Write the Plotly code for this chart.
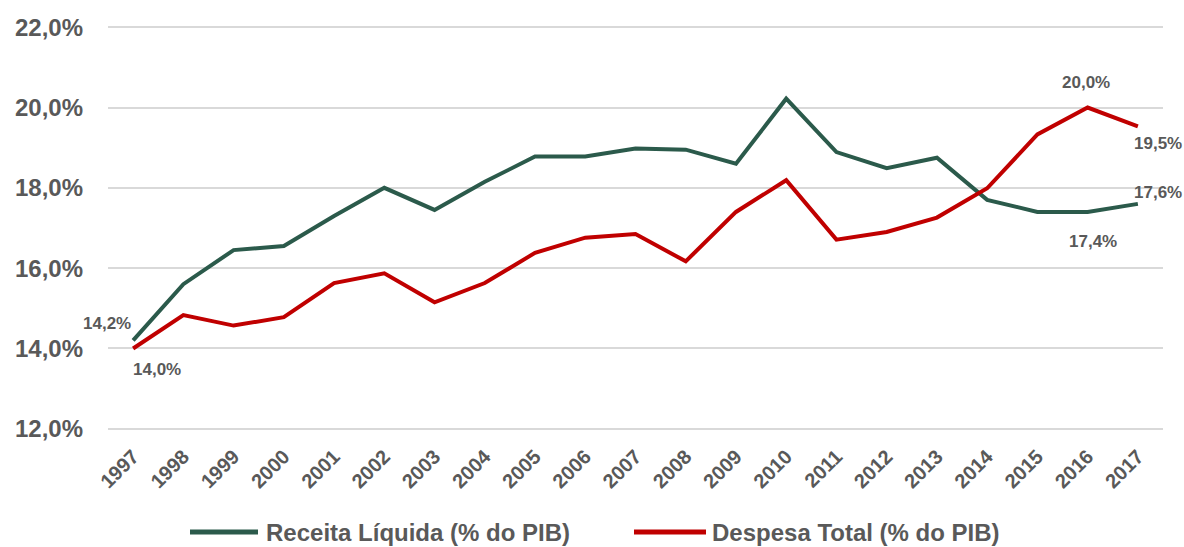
import plotly.graph_objects as go

years = [str(y) for y in range(1997, 2018)]
receita = [14.2, 15.6, 16.45, 16.55, 17.3, 18.0, 17.45, 18.15, 18.78, 18.78, 18.98, 18.95,
           18.6, 20.22, 18.89, 18.49, 18.75, 17.7, 17.4, 17.4, 17.6]
despesa = [14.0, 14.83, 14.57, 14.78, 15.63, 15.87, 15.15, 15.63, 16.38, 16.76, 16.85, 16.17,
           17.4, 18.19, 16.71, 16.9, 17.26, 17.99, 19.33, 20.0, 19.53]
name_receita = "Receita Líquida (% do PIB)"
name_despesa = "Despesa Total (% do PIB)"
y_ticks = [12, 14, 16, 18, 20, 22]
y_tick_text = ["12,0%", "14,0%", "16,0%", "18,0%", "20,0%", "22,0%"]

GREEN = "#2b5a4b"
RED = "#c00000"
GRAY = "#595959"
FONT = "Liberation Sans, Arial, sans-serif"

fig = go.Figure()
fig.add_trace(go.Scatter(x=years, y=receita, mode="lines", name=name_receita,
                         line=dict(color=GREEN, width=4), showlegend=False))
fig.add_trace(go.Scatter(x=years, y=despesa, mode="lines", name=name_despesa,
                         line=dict(color=RED, width=4), showlegend=False))

def fmt(v):
    return "<b>" + f"{v:.1f}".replace(".", ",") + "%</b>"

labels = [
    (0, receita, -26, 17),
    (0, despesa, 24, -21),
    (19, despesa, -2, 25),
    (20, despesa, 20, -17),
    (20, receita, 20, 11),
    (19, receita, 5, -30),
]
for idx, series, dx, dy in labels:
    fig.add_annotation(x=idx, y=series[idx], xref="x", yref="y",
                       text=fmt(series[idx]), showarrow=False,
                       xshift=dx, yshift=dy,
                       font=dict(family=FONT, size=17, color=GRAY))

# Manual legend (long line samples like the original)
L, R, T, B = 108, 1163, 26, 430
def px(x):
    return (x - L) / (R - L)
def py(y):
    return (B - y) / (B - T)
leg_y = py(532)
for x0, x1, col, tx, name in [(190, 258, GREEN, 264, name_receita),
                               (634, 706, RED, 710, name_despesa)]:
    fig.add_shape(type="line", xref="paper", yref="paper", x0=px(x0), x1=px(x1),
                  y0=leg_y, y1=leg_y, line=dict(color=col, width=5))
    fig.add_annotation(xref="paper", yref="paper", x=px(tx), y=leg_y, text="<b>" + name + "</b>",
                       showarrow=False, xanchor="left", yanchor="middle",
                       font=dict(family=FONT, size=24, color=GRAY))

fig.update_layout(
    width=1184, height=547,
    margin=dict(l=L, r=1184 - R, t=T, b=547 - B),
    paper_bgcolor="white", plot_bgcolor="white",
    font=dict(family=FONT, color=GRAY),
    showlegend=False,
    xaxis=dict(type="category", range=[-0.5, 20.5], showgrid=False, zeroline=False,
               tickangle=-45, tickfont=dict(family=FONT, size=20, color=GRAY, weight="bold"),
               ticklabelstandoff=10, showline=False, ticks=""),
    yaxis=dict(range=[11.97, 22.03], tickvals=y_ticks, ticktext=y_tick_text,
               showgrid=True, gridcolor="#d9d9d9", gridwidth=1.5, zeroline=False,
               tickfont=dict(family=FONT, size=24, color=GRAY, weight="bold"),
               ticklabelstandoff=24, showline=False, ticks=""),
)

fig.write_html("out.html", config={"displayModeBar": False},
               post_script="document.body.style.margin='0';document.body.style.overflow='hidden';")
